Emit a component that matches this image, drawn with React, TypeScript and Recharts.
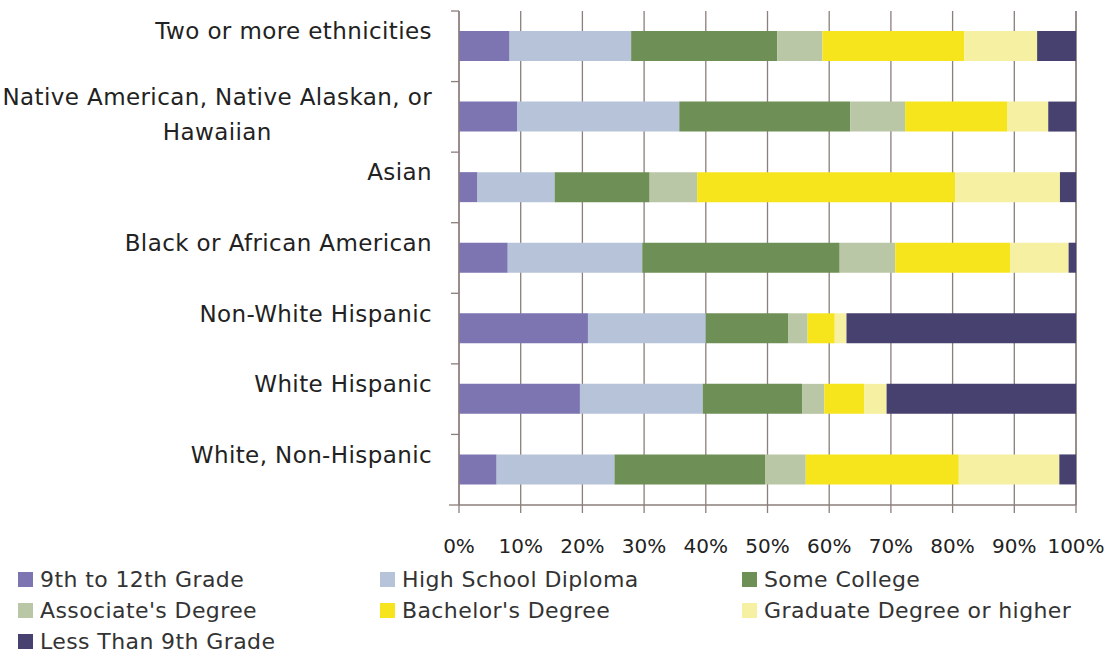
import React from 'react';
import { BarChart, Bar, XAxis, YAxis, CartesianGrid } from 'recharts';

const categories = [
  'Two or more ethnicities',
  'Native American, Native Alaskan, or Hawaiian',
  'Asian',
  'Black or African American',
  'Non-White Hispanic',
  'White Hispanic',
  'White, Non-Hispanic',
];

// shares in %, one value per category (same order as above)
const grade9to12 = [8.2, 9.4, 3.0, 7.9, 20.9, 19.6, 6.1];
const highSchool = [19.7, 26.3, 12.5, 21.8, 19.1, 19.9, 19.1];
const someCollege = [23.7, 27.7, 15.4, 32.0, 13.4, 16.1, 24.4];
const associates = [7.3, 8.9, 7.7, 9.0, 3.1, 3.6, 6.6];
const bachelors = [23.0, 16.6, 41.8, 18.6, 4.4, 6.5, 24.8];
const graduate = [11.8, 6.6, 17.0, 9.5, 1.9, 3.6, 16.3];
const lessThan9th = [6.3, 4.5, 2.6, 1.2, 37.2, 30.7, 2.7];

const xTicks = [0, 10, 20, 30, 40, 50, 60, 70, 80, 90, 100];

const series = [
  { key: 'g912', name: '9th to 12th Grade', values: grade9to12, color: '#7d74b2' },
  { key: 'hs', name: 'High School Diploma', values: highSchool, color: '#b6c3d8' },
  { key: 'sc', name: 'Some College', values: someCollege, color: '#6e8f55' },
  { key: 'assoc', name: "Associate's Degree", values: associates, color: '#b9c7a6' },
  { key: 'bach', name: "Bachelor's Degree", values: bachelors, color: '#f6e51c' },
  { key: 'grad', name: 'Graduate Degree or higher', values: graduate, color: '#f6f0a2' },
  { key: 'lt9', name: 'Less Than 9th Grade', values: lessThan9th, color: '#47416f' },
];

const data = categories.map((name, i) => {
  const row: Record<string, any> = { name };
  series.forEach((s) => (row[s.key] = s.values[i]));
  return row;
});

const FONT = '"DejaVu Sans", "Open Sans", sans-serif';
const AXIS = '#8b7e7b';
const TOP = 11;
const BOTTOM = 505;
const BAND = (BOTTOM - TOP) / categories.length;
const LABEL_SIZE = 23;
const LABEL_LS = 0.4;

let ctx: CanvasRenderingContext2D | null = null;
const measure = (t: string, size: number) => {
  if (!ctx) ctx = document.createElement('canvas').getContext('2d');
  if (!ctx) return t.length * size * 0.6;
  ctx.font = `${size}px ${FONT}`;
  return ctx.measureText(t).width + t.length * LABEL_LS;
};

const wrap = (text: string, size: number, max: number) => {
  const words = text.split(' ');
  const lines: string[] = [];
  let cur = '';
  words.forEach((w) => {
    const next = cur ? cur + ' ' + w : w;
    if (cur && measure(next, size) > max) {
      lines.push(cur);
      cur = w;
    } else cur = next;
  });
  if (cur) lines.push(cur);
  return lines;
};

const CategoryTick = (props: any) => {
  const { x, y, payload, index } = props;
  const lines = wrap(payload.value, LABEL_SIZE, 450);
  const widths = lines.map((l) => measure(l, LABEL_SIZE));
  const block = Math.max(...widths);
  const right = x - 27;
  const cx = right - block / 2;
  const baselines = lines.length === 1 ? [y - 7] : [y - 12, y + 23];
  return (
    <g>
      <line x1={x - 8} x2={x} y1={y - BAND / 2} y2={y - BAND / 2} stroke={AXIS} strokeWidth={1.3} />
      {index === categories.length - 1 && (
        <line x1={x - 10} x2={x} y1={y + BAND / 2} y2={y + BAND / 2} stroke={AXIS} strokeWidth={1.3} />
      )}
      {lines.map((l, i) => (
        <text
          key={i}
          x={lines.length === 1 ? right : cx}
          y={baselines[i]}
          textAnchor={lines.length === 1 ? 'end' : 'middle'}
          fontSize={LABEL_SIZE}
          fontFamily={FONT}
          letterSpacing={LABEL_LS}
          fill="#222"
        >
          {l}
        </text>
      ))}
    </g>
  );
};

const legendRows = [series.slice(0, 3), series.slice(3, 6), series.slice(6)];
const legendCols = [18, 380, 742];

export default function App() {
  return (
    <div style={{ position: 'relative', width: 1110, height: 653, background: '#fff', overflow: 'hidden' }}>
      <style>{`body{margin:0}`}</style>
      <BarChart
        width={1110}
        height={653}
        data={data}
        layout="vertical"
        margin={{ top: TOP, right: 34, left: 0, bottom: 0 }}
        barSize={30}
      >
        <CartesianGrid horizontal={false} stroke={AXIS} strokeWidth={1.3} />
        <XAxis
          type="number"
          domain={[0, 100]}
          ticks={xTicks}
          tickFormatter={(v) => `${v}%`}
          height={653 - BOTTOM}
          stroke={AXIS}
          strokeWidth={1.3}
          tickSize={8}
          tickMargin={26}
          interval={0}
          tick={{ fill: '#222', fontSize: 20, fontFamily: FONT }}
        />
        <YAxis
          type="category"
          dataKey="name"
          width={459}
          stroke={AXIS}
          strokeWidth={1.3}
          tickLine={false}
          tickSize={0}
          tickMargin={0}
          interval={0}
          tick={<CategoryTick />}
        />
        {series.map((s) => (
          <Bar key={s.key} dataKey={s.key} name={s.name} stackId="a" fill={s.color} isAnimationActive={false} />
        ))}
      </BarChart>
      <div style={{ position: 'absolute', left: 0, top: 568, fontFamily: FONT, fontSize: 22, letterSpacing: 0.4, color: '#333' }}>
        {legendRows.map((row, r) => (
          <div key={r} style={{ position: 'relative', height: 31 }}>
            {row.map((s, c) => (
              <div
                key={s.key}
                style={{ position: 'absolute', left: legendCols[c], top: 0, display: 'flex', alignItems: 'center', whiteSpace: 'nowrap', height: 24, lineHeight: '24px' }}
              >
                <span style={{ display: 'inline-block', width: 15, height: 15, background: s.color, marginRight: 7, marginTop: -2 }} />
                {s.name}
              </div>
            ))}
          </div>
        ))}
      </div>
    </div>
  );
}
